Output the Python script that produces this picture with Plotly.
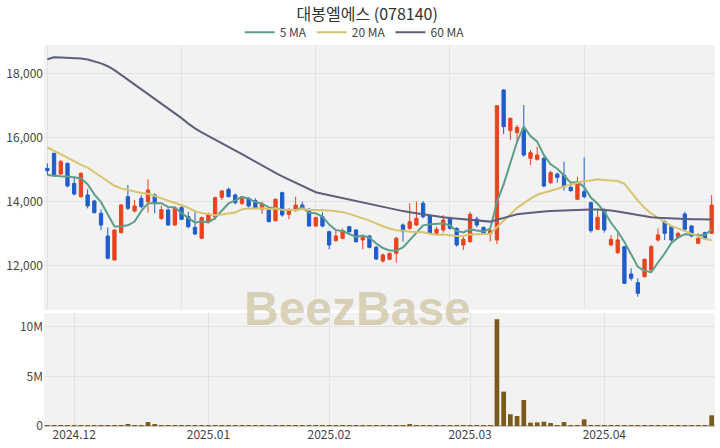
import pandas as pd
import plotly.graph_objects as go
from plotly.subplots import make_subplots

# trading days (categories)
holidays = ["2024-12-25", "2024-12-31", "2025-01-01", "2025-01-27",
            "2025-01-28", "2025-01-29", "2025-01-30"]
dates = [d.strftime("%Y-%m-%d") for d in
         pd.bdate_range("2024-11-26", "2025-04-23", freq="C", holidays=holidays)]

opens = [15035, 15503, 14858, 15191, 14567, 14151, 14203, 14016, 13631, 12924,
         12175, 13028, 14151, 13704, 14099, 13995, 14203, 13470, 13735, 13267,
         13808, 13527, 13194, 12851, 13371, 13527, 14130, 14380, 14203, 13943,
         14099, 14026, 13756, 13787, 13402, 14276, 13600, 13714, 13891, 13756,
         13236, 13527, 13059, 12778, 12851, 13215, 13111, 12799, 12924, 12570,
         12144, 12196, 12383, 13267, 13163, 13267, 13943, 13548, 13007, 13111,
         13475, 13163, 12643, 12747, 13454, 13194, 12986, 12799, 17479, 16210,
         16148, 16283, 15347, 15315, 15347, 14588, 14858, 14827, 14442, 14068,
         14307, 13964, 13132, 13735, 12643, 12404, 12591, 11738, 11468, 11655,
         11863, 12799, 13371, 13215, 12882, 13610, 13236, 12695, 13028, 13007]
highs = [15191, 15524, 15295, 15212, 14775, 14910, 14380, 14047, 13756, 13194,
         13132, 13922, 14515, 14047, 14203, 14692, 14255, 13870, 13787, 13818,
         13860, 13683, 13735, 13527, 13652, 14151, 14359, 14432, 14255, 14172,
         14130, 14099, 13995, 13839, 14099, 14307, 13787, 14151, 13995, 13787,
         13527, 13662, 13090, 13111, 13163, 13236, 13132, 12924, 12955, 12612,
         12383, 12404, 12903, 13319, 13943, 13995, 14016, 13579, 13215, 13579,
         13527, 13194, 12903, 13683, 13527, 13215, 13163, 17011, 17500, 16620,
         16387, 17011, 15607, 15711, 15399, 14962, 14900, 15243, 14588, 14775,
         15378, 13995, 13756, 13787, 12955, 13007, 12612, 11915, 11603, 12227,
         12643, 13163, 13423, 13267, 13059, 13683, 13267, 13007, 13059, 14203]
lows = [14827, 14775, 14827, 14442, 14182, 14120, 13787, 13631, 13111, 12196,
        12155, 13007, 13735, 13652, 13787, 13652, 13631, 13420, 13236, 13236,
        13423, 13163, 12955, 12820, 13319, 13423, 14047, 14130, 13912, 13891,
        13818, 13756, 13610, 13350, 13371, 13527, 13444, 13683, 13735, 13215,
        13215, 13194, 12508, 12747, 12820, 13028, 12716, 12508, 12539, 12175,
        12092, 12175, 12092, 12747, 13111, 13236, 13475, 13007, 12955, 13028,
        13132, 12591, 12487, 12716, 13194, 12955, 12747, 12674, 16106, 15919,
        15815, 15399, 15139, 15274, 14442, 14546, 14588, 14338, 14307, 14047,
        14099, 13028, 13111, 13028, 12612, 12362, 11426, 11530, 11031, 11634,
        11842, 12747, 12799, 12747, 12851, 13090, 12882, 12674, 12820, 12986]
closes = [14963, 14796, 15243, 14484, 14234, 14879, 13860, 13652, 13267, 12227,
          13111, 13891, 13787, 13860, 13839, 14359, 13943, 13745, 13267, 13787,
          13444, 13215, 12986, 13496, 13600, 14120, 14328, 14151, 13964, 14151,
          13860, 13787, 13912, 13371, 14068, 13579, 13756, 13891, 13787, 13236,
          13496, 13236, 12643, 12924, 13090, 13059, 12747, 12882, 12570, 12206,
          12331, 12383, 12851, 13059, 13371, 13475, 13527, 13028, 13132, 13423,
          13163, 12643, 12820, 13600, 13267, 12986, 13090, 16990, 16335, 16595,
          16314, 15451, 15523, 15451, 14484, 14900, 14754, 14463, 14338, 14567,
          14151, 13090, 13506, 13111, 12820, 12799, 11447, 11603, 11135, 12196,
          12591, 12955, 13007, 12799, 13007, 13132, 12924, 12851, 12851, 13891]
volumes = [60e3, 50e3, 40e3, 40e3, 30e3, 40e3, 60e3, 40e3, 50e3, 80e3,
           80e3, 60e3, 200e3, 80e3, 50e3, 400e3, 120e3, 50e3, 40e3, 40e3,
           40e3, 40e3, 50e3, 40e3, 60e3, 70e3, 60e3, 60e3, 40e3, 40e3,
           40e3, 30e3, 40e3, 30e3, 50e3, 40e3, 30e3, 40e3, 30e3, 30e3,
           30e3, 30e3, 40e3, 30e3, 30e3, 30e3, 40e3, 30e3, 30e3, 40e3,
           30e3, 40e3, 60e3, 90e3, 110e3, 100e3, 70e3, 40e3, 30e3, 30e3,
           30e3, 40e3, 30e3, 50e3, 30e3, 30e3, 40e3, 10.78e6, 3.47e6, 1.18e6,
           1.01e6, 2.63e6, 340e3, 370e3, 430e3, 300e3, 100e3, 400e3, 100e3, 100e3,
           670e3, 80e3, 60e3, 70e3, 50e3, 100e3, 90e3, 60e3, 50e3, 80e3,
           60e3, 80e3, 50e3, 40e3, 50e3, 100e3, 40e3, 40e3, 60e3, 1.08e6]

ma5_head = [14830, 14800, 14790, 14780]
ma20_head = [15690, 15580, 15470, 15360, 15240, 15150, 15060, 14920, 14780, 14650,
             14490, 14410, 14360, 14300, 14265, 14240, 14170, 14110, 14030]
ma60 = [18440, 18500, 18495, 18485, 18475, 18460, 18430, 18380, 18310, 18220,
        18100, 17950, 17800, 17650, 17500, 17350, 17200, 17060, 16910, 16760,
        16600, 16430, 16280, 16160, 16050, 15940, 15830, 15710, 15600, 15480,
        15360, 15240, 15120, 15010, 14890, 14786, 14684, 14582, 14480, 14378,
        14290, 14240, 14195, 14150, 14100, 14055, 14010, 13960, 13910, 13865,
        13815, 13770, 13735, 13700, 13665, 13630, 13595, 13560, 13526, 13505,
        13485, 13465, 13445, 13425, 13405, 13385, 13372, 13430, 13490, 13550,
        13600, 13625, 13650, 13670, 13685, 13700, 13712, 13722, 13732, 13742,
        13750, 13752, 13748, 13738, 13720, 13690, 13650, 13610, 13570, 13535,
        13510, 13490, 13478, 13468, 13458, 13452, 13448, 13446, 13444, 13442]

price_ticks = [12000, 14000, 16000, 18000]
vol_ticks = [0, 5e6, 10e6]
month_starts = ["2024-12-02", "2025-01-02", "2025-02-03", "2025-03-04", "2025-04-01"]
month_labels = ["2024.12", "2025.01", "2025.02", "2025.03", "2025.04"]

cs = pd.Series(closes, dtype=float)
ma5 = cs.rolling(5).mean().tolist()
ma5[:4] = ma5_head
ma20 = cs.rolling(20).mean().tolist()
ma20[:19] = ma20_head

FONT = "Noto Sans CJK KR"
RED = "#e9441f"
BLUE = "#1f5dcb"

fig = make_subplots(rows=2, cols=1, shared_xaxes=False, vertical_spacing=0.0)

fig.add_trace(go.Candlestick(
    x=dates, open=opens, high=highs, low=lows, close=closes,
    increasing=dict(line=dict(color=RED, width=1), fillcolor=RED),
    decreasing=dict(line=dict(color=BLUE, width=1), fillcolor=BLUE),
    whiskerwidth=0, showlegend=False, name="price"), row=1, col=1)

fig.add_trace(go.Scatter(x=dates, y=ma5, mode="lines", name="5 MA",
                         line=dict(color="#5b9e8b", width=2)), row=1, col=1)
fig.add_trace(go.Scatter(x=dates, y=ma20, mode="lines", name="20 MA",
                         line=dict(color="#d6c46e", width=2)), row=1, col=1)
fig.add_trace(go.Scatter(x=dates, y=ma60, mode="lines", name="60 MA",
                         line=dict(color="#5c6079", width=2)), row=1, col=1)

fig.add_trace(go.Bar(x=dates, y=volumes, marker=dict(color="#7a5b1c", line=dict(width=0)),
                     showlegend=False, name="volume"), row=2, col=1)

grid = "#e3e3e3"
fig.update_layout(
    width=720, height=448,
    margin=dict(l=44, r=5, t=45, b=22, autoexpand=False),
    paper_bgcolor="white", plot_bgcolor="#f2f2f2",
    font=dict(family=FONT, size=12, color="#444"),
    title=dict(text="대봉엘에스 (078140)", x=0.51, xanchor="center", xref="container",
               y=1 - 14 / 448, yanchor="middle", yref="container",
               font=dict(family=FONT, size=16, color="#333")),
    legend=dict(orientation="h", x=0.463, xanchor="center", y=1.0333, yanchor="middle",
                font=dict(family=FONT, size=12, color="#444"), bgcolor="rgba(0,0,0,0)"),
    bargap=0.3,
    showlegend=True,
)

fig.update_xaxes(type="category", range=[-0.5, len(dates) - 0.5], showline=False,
                 rangeslider=dict(visible=False), gridcolor=grid, zeroline=False,
                 automargin=False, ticklen=0)
fig.update_xaxes(tickmode="array", tickvals=[dates[k] for k in (0, 20, 40, 60, 80)],
                 showticklabels=False, ticks="", row=1, col=1)
fig.update_xaxes(tickmode="array", tickvals=month_starts, ticktext=month_labels,
                 ticks="", tickfont=dict(size=12, color="#444"), row=2, col=1)

fig.update_yaxes(automargin=False, ticklen=0)
fig.update_yaxes(range=[10615, 18883], tickvals=price_ticks, tickformat=",",
                 gridcolor=grid, zeroline=False, ticks="", row=1, col=1)
fig.update_yaxes(range=[0, 11.41e6], tickvals=vol_ticks, tickformat="~s",
                 gridcolor=grid, zeroline=True, zerolinecolor="#c8c8c8", ticks="",
                 row=2, col=1)

fig.layout.yaxis.domain = [0.3045, 1.0]
fig.layout.yaxis2.domain = [0.0, 0.2966]

fig.add_annotation(text="BeezBase", xref="paper", yref="paper", x=0.4675, y=0.309,
                   xanchor="center", yanchor="middle", showarrow=False,
                   font=dict(family="Liberation Sans", size=48, color="rgba(205,196,160,0.72)",
                             weight="bold"))

fig.write_html("out.html", config={"displayModeBar": False},
               post_script="document.body.style.margin='0px';")
